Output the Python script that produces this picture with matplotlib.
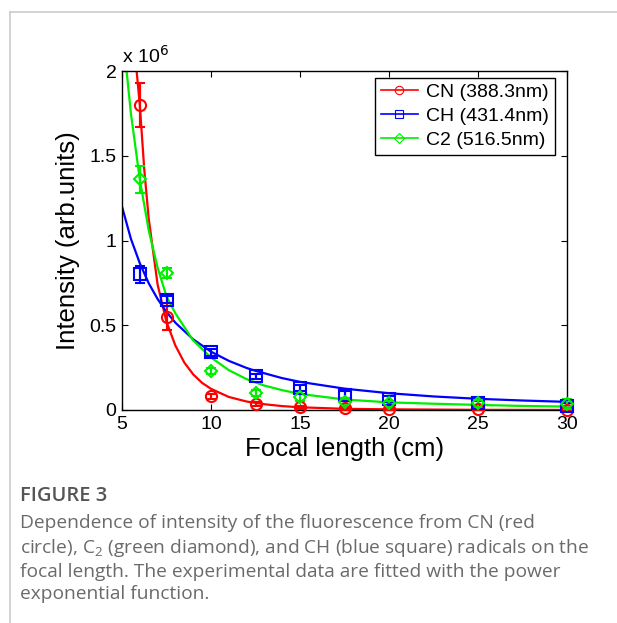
import matplotlib.pyplot as plt
from matplotlib.lines import Line2D

# measured points (intensity in units of 1e6)
focal = [6, 7.5, 10, 12.5, 15, 17.5, 20, 25, 30]
cn = [1.80, 0.55, 0.08, 0.035, 0.015, 0.010, 0.005, 0.003, 0.002]
cn_err = [0.13, 0.08, 0.015, 0.01, 0.008, 0.008, 0.005, 0.005, 0.005]
ch = [0.80, 0.65, 0.34, 0.20, 0.13, 0.09, 0.065, 0.04, 0.025]
ch_err = [0.05, 0.02, 0.02, 0.015, 0.02, 0.02, 0.02, 0.015, 0.015]
c2 = [1.36, 0.81, 0.23, 0.10, 0.075, 0.05, 0.04, 0.04, 0.035]
c2_err = [0.08, 0.03, 0.02, 0.02, 0.02, 0.02, 0.015, 0.02, 0.03]

# fitted curves
cn_fit_x = [5.75, 6, 6.25, 6.5, 7, 7.5, 8, 8.5, 9, 9.5, 10, 11, 12, 13, 14, 15, 17.5, 20, 25, 30]
cn_fit_y = [2.08, 1.80, 1.42, 1.13, 0.74, 0.52, 0.38, 0.28, 0.21, 0.16, 0.125,
            0.077, 0.050, 0.034, 0.023, 0.016, 0.007, 0.004, 0.001, 0.0005]
ch_fit_x = [5, 5.5, 6, 6.5, 7, 7.5, 8, 9, 10, 11, 12, 12.5, 14, 15, 17.5, 20, 22.5, 25, 27.5, 30]
ch_fit_y = [1.20, 1.01, 0.866, 0.748, 0.655, 0.578, 0.515, 0.417, 0.344, 0.290,
            0.248, 0.231, 0.188, 0.166, 0.126, 0.099, 0.080, 0.066, 0.056, 0.048]
c2_fit_x = [5.2, 5.5, 6, 6.5, 7, 7.5, 8, 9, 10, 11, 12, 13, 14, 15, 17.5, 20, 22.5, 25, 27.5, 30]
c2_fit_y = [2.06, 1.75, 1.36, 1.06, 0.84, 0.67, 0.57, 0.41, 0.31, 0.235, 0.182,
            0.144, 0.117, 0.095, 0.062, 0.045, 0.037, 0.030, 0.024, 0.020]

labels = ['CN (388.3nm)', 'CH (431.4nm)', 'C2 (516.5nm)']
caption = ("Dependence of intensity of the fluorescence from CN (red\n"
           "circle), C$_{\\mathrm{2}}$ (green diamond), and CH (blue square) radicals on the\n"
           "focal length. The experimental data are fitted with the power\n"
           "exponential function.")

plt.rcParams['font.family'] = ['Liberation Sans', 'DejaVu Sans']
plt.rcParams['mathtext.fontset'] = 'custom'
plt.rcParams['mathtext.rm'] = 'Open Sans'

fig = plt.figure(figsize=(6.17, 6.23), dpi=100)
ax = fig.add_axes([122 / 617, 1 - 410 / 623, 445 / 617, 339 / 623])

series = [(cn, cn_err, cn_fit_x, cn_fit_y, '#ff0000', 'o'),
          (ch, ch_err, ch_fit_x, ch_fit_y, '#0000ff', 's'),
          (c2, c2_err, c2_fit_x, c2_fit_y, '#00ee00', 'D')]

handles = []
for (vals, errs, fx, fy, col, mk), lab in zip(series, labels):
    ax.plot(fx, fy, color=col, lw=1.6, clip_on=True)
    ax.errorbar(focal, vals, yerr=errs, fmt=mk, color=col, mfc='none',
                mec=col, ms=8 if mk != 'D' else 6.5, mew=1.5, elinewidth=1.6,
                capsize=3.5, capthick=1.6, clip_on=False, zorder=3)
    handles.append(Line2D([], [], color=col, lw=1.2, marker=mk, mfc='none',
                          mec=col, ms=6 if mk != 'D' else 5, mew=0.8))

ax.set_xlim(5, 30)
ax.set_ylim(0, 2)
ax.set_xticks([5, 10, 15, 20, 25, 30])
ax.set_yticks([0, 0.5, 1, 1.5, 2])
ax.set_yticklabels(['0', '0.5', '1', '1.5', '2'])
ax.tick_params(direction='in', length=4, width=0.8, labelsize=14,
               top=True, right=True, pad=4)
for s in ax.spines.values():
    s.set_linewidth(1.0)

ax.set_xlabel('Focal length (cm)', fontsize=18.5, labelpad=3)
ax.set_ylabel('Intensity (arb.units)', fontsize=18.5, labelpad=7)
ax.text(0.0, 1.012, 'x 10$^{6}$', transform=ax.transAxes, fontsize=14,
        ha='left', va='bottom', math_fontfamily='dejavusans')

leg = ax.legend(handles, labels, loc='upper right', fontsize=14,
                bbox_to_anchor=(0.973, 0.98), fancybox=False, framealpha=1,
                edgecolor='black', handlelength=1.9, handletextpad=0.45,
                borderpad=0.3, labelspacing=0.32, borderaxespad=0)
leg.get_frame().set_linewidth(1.0)

# page frame lines
fig.add_artist(Line2D([10 / 617, 1], [1 - 12 / 623, 1 - 12 / 623],
                      color='#cccccc', lw=1.2))
fig.add_artist(Line2D([10 / 617, 10 / 617], [0, 1 - 12 / 623],
                      color='#cccccc', lw=1.2))

fig.text(20 / 617, 1 - 496 / 623, 'FIGURE 3', fontsize=14.5, color='#555555',
         family='Open Sans', weight='semibold', va='center')
fig.text(20 / 617, 1 - 514 / 623, caption, fontsize=13.8, color='#6a6a6a',
         family='Open Sans', va='top', linespacing=1.3)

fig.savefig('out.png', dpi=100)
